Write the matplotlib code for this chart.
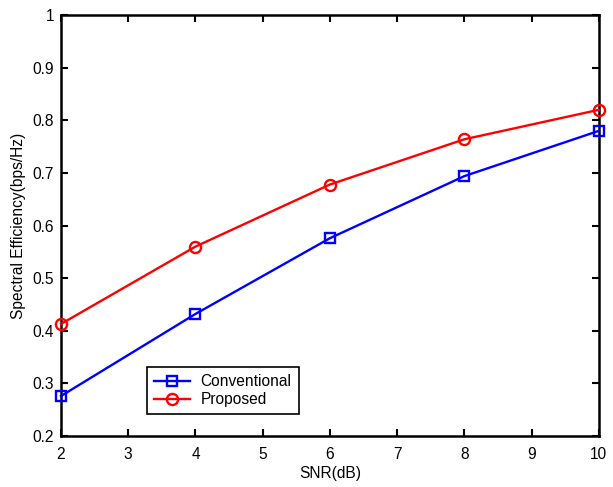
import matplotlib
matplotlib.use("Agg")
import matplotlib.pyplot as plt

plt.rcParams['font.family'] = ['Liberation Sans', 'DejaVu Sans']

snr = [2, 4, 6, 8, 10]
conventional = [0.276, 0.432, 0.576, 0.694, 0.780]
proposed = [0.413, 0.560, 0.678, 0.764, 0.820]

fig = plt.figure(figsize=(6.13, 4.87), dpi=100)
ax = fig.add_axes([0.0995, 0.1047, 0.8775, 0.8643])

ax.plot(snr, conventional, color='#0000ff', lw=1.7, marker='s', ms=7.5,
        mfc='none', mew=1.7, label='Conventional', clip_on=False, zorder=3)
ax.plot(snr, proposed, color='#ff0000', lw=1.7, marker='o', ms=8,
        mfc='none', mew=1.7, label='Proposed', clip_on=False, zorder=3)

ax.set_xlim(2, 10)
ax.set_ylim(0.2, 1)
ax.set_xticks(range(2, 11))
ax.set_yticks([0.2, 0.3, 0.4, 0.5, 0.6, 0.7, 0.8, 0.9, 1])
ax.set_yticklabels(['0.2', '0.3', '0.4', '0.5', '0.6', '0.7', '0.8', '0.9', '1'])
ax.tick_params(direction='in', top=True, right=True, length=5, width=1.5,
               labelsize=11.2)
ax.tick_params(axis='x', pad=8)
ax.tick_params(axis='y', pad=5)
for s in ax.spines.values():
    s.set_linewidth(1.8)

ax.set_xlabel('SNR(dB)', fontsize=11.2, labelpad=3)
ax.set_ylabel('Spectral Efficiency(bps/Hz)', fontsize=11.2, labelpad=5)

leg = ax.legend(loc='lower left', bbox_to_anchor=(0.16, 0.052), fontsize=11.2,
                fancybox=False, framealpha=1, edgecolor='black',
                borderpad=0.45, labelspacing=0.2, handlelength=2.3,
                handletextpad=0.7, borderaxespad=0)
leg.get_frame().set_linewidth(1.2)

fig.savefig('out.png', dpi=100)
